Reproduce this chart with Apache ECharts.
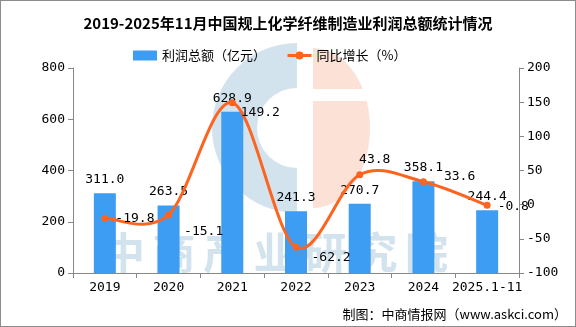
<!DOCTYPE html>
<html><head><meta charset="utf-8">
<script src="https://cdn.jsdelivr.net/npm/echarts@6/dist/echarts.min.js"></script>
<style>html,body{margin:0;padding:0;background:#fff}#c{width:576px;height:327px;box-sizing:border-box;border:1px solid #8c8c8c}</style>
</head><body><div id="c"></div>
<script>
var categories = ['2019','2020','2021','2022','2023','2024','2025.1-11'];
var profit = [311.0, 263.5, 628.9, 241.3, 270.7, 358.1, 244.4];
var growth = [-19.8, -15.1, 149.2, -62.2, 43.8, 33.6, -0.8];
var leftTicks = {min:0, max:800, interval:200};
var rightTicks = {min:-100, max:200, interval:50};
var watermark = '中商产业研究院';
var lineColor = '#fd6420';

function halfEllipse(cx, cy, rx, ry){
  var pts=[];
  for(var i=0;i<=40;i++){var a=-Math.PI/2+Math.PI*i/40;pts.push([cx+rx*Math.cos(a),cy+ry*Math.sin(a)]);}
  return pts;
}
var chart = echarts.init(document.getElementById('c'));
var mono = 'DejaVu Sans Mono';
var graphics = [
  {type:'sector',silent:true,z:-10,shape:{cx:296,cy:127,r:85,r0:40,startAngle:Math.PI/2,endAngle:Math.PI*3/2},style:{fill:'#d2e3ee'}},
  {type:'polygon',silent:true,z:-10,shape:{points:halfEllipse(312,127,57,80)},style:{fill:'#fbe1d6'}},
  {type:'rect',silent:true,z:-9,shape:{x:310,y:88,width:70,height:12},style:{fill:'#fff'}},
  {type:'text',right:8,top:307,style:{text:'制图：中商情报网（www.askci.com）',fontSize:13,fill:'#000',fontFamily:'Noto Sans CJK SC'}}
];
for (var i=0;i<watermark.length;i++){
  graphics.push({type:'text',silent:true,z:-8,left:101+i*50.5,top:230,style:{text:watermark[i],fontSize:43,fontWeight:'bold',fill:'#d2e3ee',fontFamily:'Noto Sans CJK SC'}});
}
var lineLabelCfg = [
  {position:'right',offset:[2,0]},
  {position:'right',offset:[7,17]},
  {position:'right',offset:[0,10]},
  {position:'right',offset:[7,10]},
  {position:'top',offset:[15,0]},
  {position:'right',offset:[12,-5]},
  {position:'right',offset:[2,1]}
];
var lineData = growth.map(function(v,i){return {value:v,label:lineLabelCfg[i]};});

function renderCurve(params, api){
  var pts = growth.map(function(v,i){return api.coord([i, v]);});
  var n = pts.length;
  var path = 'M' + pts[0][0] + ' ' + pts[0][1];
  for (var i=0;i<n-1;i++){
    var p0 = pts[Math.max(i-1,0)], p1 = pts[i], p2 = pts[i+1], p3 = pts[Math.min(i+2,n-1)];
    var c1 = [p1[0]+(p2[0]-p0[0])/6, p1[1]+(p2[1]-p0[1])/6];
    var c2 = [p2[0]-(p3[0]-p1[0])/6, p2[1]-(p3[1]-p1[1])/6];
    path += ' C' + c1[0]+' '+c1[1]+' '+c2[0]+' '+c2[1]+' '+p2[0]+' '+p2[1];
  }
  return {type:'path', shape:{pathData:path}, style:{fill:'none', stroke:lineColor, lineWidth:3}};
}

chart.setOption({
  animation:false,
  backgroundColor:'#fff',
  title:{text:'2019-2025年11月中国规上化学纤维制造业利润总额统计情况',left:'center',top:10,
    textStyle:{fontSize:15,fontWeight:'bold',color:'#000',fontFamily:'Noto Sans CJK SC'}},
  legend:{top:43,left:127,itemGap:20,itemWidth:24,itemHeight:10,
    textStyle:{fontSize:13,color:'#000',fontFamily:'Noto Sans CJK SC'},
    data:[{name:'利润总额（亿元）',icon:'rect'},
          {name:'同比增长（%）',lineStyle:{opacity:1,width:3,color:lineColor}}]},
  graphic:graphics,
  grid:{left:72,right:56,top:67,bottom:53},
  xAxis:{type:'category',data:categories,
    axisLine:{lineStyle:{color:'#888'}},axisTick:{show:true,lineStyle:{color:'#888'}},
    axisLabel:{color:'#000',fontSize:13,fontFamily:mono,margin:8,interval:0}},
  yAxis:[
    {type:'value',min:leftTicks.min,max:leftTicks.max,interval:leftTicks.interval,
     axisLine:{show:true,lineStyle:{color:'#888'}},axisTick:{show:true,lineStyle:{color:'#888'}},
     splitLine:{show:false},axisLabel:{color:'#000',fontSize:13,fontFamily:mono,margin:8}},
    {type:'value',min:rightTicks.min,max:rightTicks.max,interval:rightTicks.interval,
     axisLine:{show:true,lineStyle:{color:'#888'}},axisTick:{show:true,lineStyle:{color:'#888'}},
     splitLine:{show:false},axisLabel:{color:'#000',fontSize:13,fontFamily:mono,margin:8}}
  ],
  series:[
    {name:'利润总额（亿元）',type:'bar',data:profit,barWidth:22,yAxisIndex:0,
     itemStyle:{color:'#3d9df2'},
     label:{show:true,position:'top',distance:7,formatter:function(p){return p.value.toFixed(1);},color:'#000',fontSize:13,fontFamily:mono}},
    {name:'curve',type:'custom',yAxisIndex:1,data:[[0,growth[0]]],renderItem:renderCurve,z:3,silent:true},
    {name:'同比增长（%）',type:'line',data:lineData,yAxisIndex:1,
     symbol:'circle',symbolSize:7,z:4,
     lineStyle:{color:lineColor,width:3,opacity:0},itemStyle:{color:lineColor},
     label:{show:true,distance:5,formatter:function(p){return p.value.toFixed(1);},color:'#000',fontSize:13,fontFamily:mono}}
  ]
});
</script></body></html>
